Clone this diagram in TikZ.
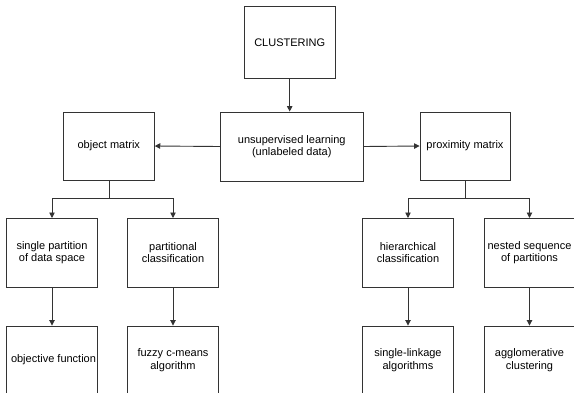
\documentclass[tikz,border=0pt]{standalone}
\usepackage{fontspec}
\setmainfont{Liberation Sans}
\usetikzlibrary{arrows.meta}
\begin{document}
\begin{tikzpicture}[x=1pt,y=-1pt,
  box/.style={draw=black!80, line width=0.9pt, fill=white, align=center, inner sep=1pt,
    font=\fontsize{11}{12.5}\selectfont},
  conn/.style={draw=black!80, line width=0.9pt},
  arr/.style={conn, -{Triangle[length=5.5pt,width=5.5pt]}}
]
\useasboundingbox (0,0) rectangle (574,392);
\clip (0,0) rectangle (574,392);
\node[box, minimum width=90.7pt, minimum height=71.3pt] (clus) at (289.7,42.3) {CLUSTERING};
\node[box, minimum width=142.3pt, minimum height=69pt] (unsup) at (291.8,146.5) {unsupervised learning\\(unlabeled data)};
\node[box, minimum width=91pt, minimum height=68pt] (obj) at (108.8,146) {object matrix};
\node[box, minimum width=90pt, minimum height=68pt] (prox) at (465,146) {proximity matrix};
\node[box, minimum width=90.6pt, minimum height=68.5pt] (sp) at (52,252.7) {single partition\\of data space};
\node[box, minimum width=90.6pt, minimum height=68.5pt] (pc) at (173,252.7) {partitional\\classification};
\node[box, minimum width=90.5pt, minimum height=68.5pt] (hc) at (408,252.7) {hierarchical\\classification};
\node[box, minimum width=91pt, minimum height=68.5pt] (ns) at (529.5,252.7) {nested sequence\\of partitions};
\node[box, minimum width=90.6pt, minimum height=68pt] (of) at (52,360) {};
\node[font=\fontsize{11}{12.5}\selectfont] (oft) at (53.5,360) {objective function};
\node[box, minimum width=90.6pt, minimum height=68pt] (fc) at (173,360) {fuzzy c-means\\algorithm};
\node[box, minimum width=90.5pt, minimum height=68pt] (sl) at (408,360) {single-linkage\\algorithms};
\node[box, minimum width=91pt, minimum height=68pt] (ag) at (529.5,360) {agglomerative\\clustering};
\coordinate (bl) at (109,198.7);
\coordinate (br) at (465.3,198.7);
\draw[arr] (clus.south) -- (clus.south |- unsup.north);
\draw[arr] (unsup.west) -- (obj.east);
\draw[arr] (unsup.east) -- (prox.west);
\draw[conn] (obj.south -| bl) -- (bl);
\draw[arr] (bl) -| (sp.north);
\draw[arr] (bl) -| (pc.north);
\draw[conn] (prox.south -| br) -- (br);
\draw[arr] (br) -| (hc.north);
\draw[arr] (br) -| (ns.north);
\draw[arr] (sp) -- (of);
\draw[arr] (pc) -- (fc);
\draw[arr] (hc) -- (sl);
\draw[arr] (ns) -- (ag);
\end{tikzpicture}
\end{document}
